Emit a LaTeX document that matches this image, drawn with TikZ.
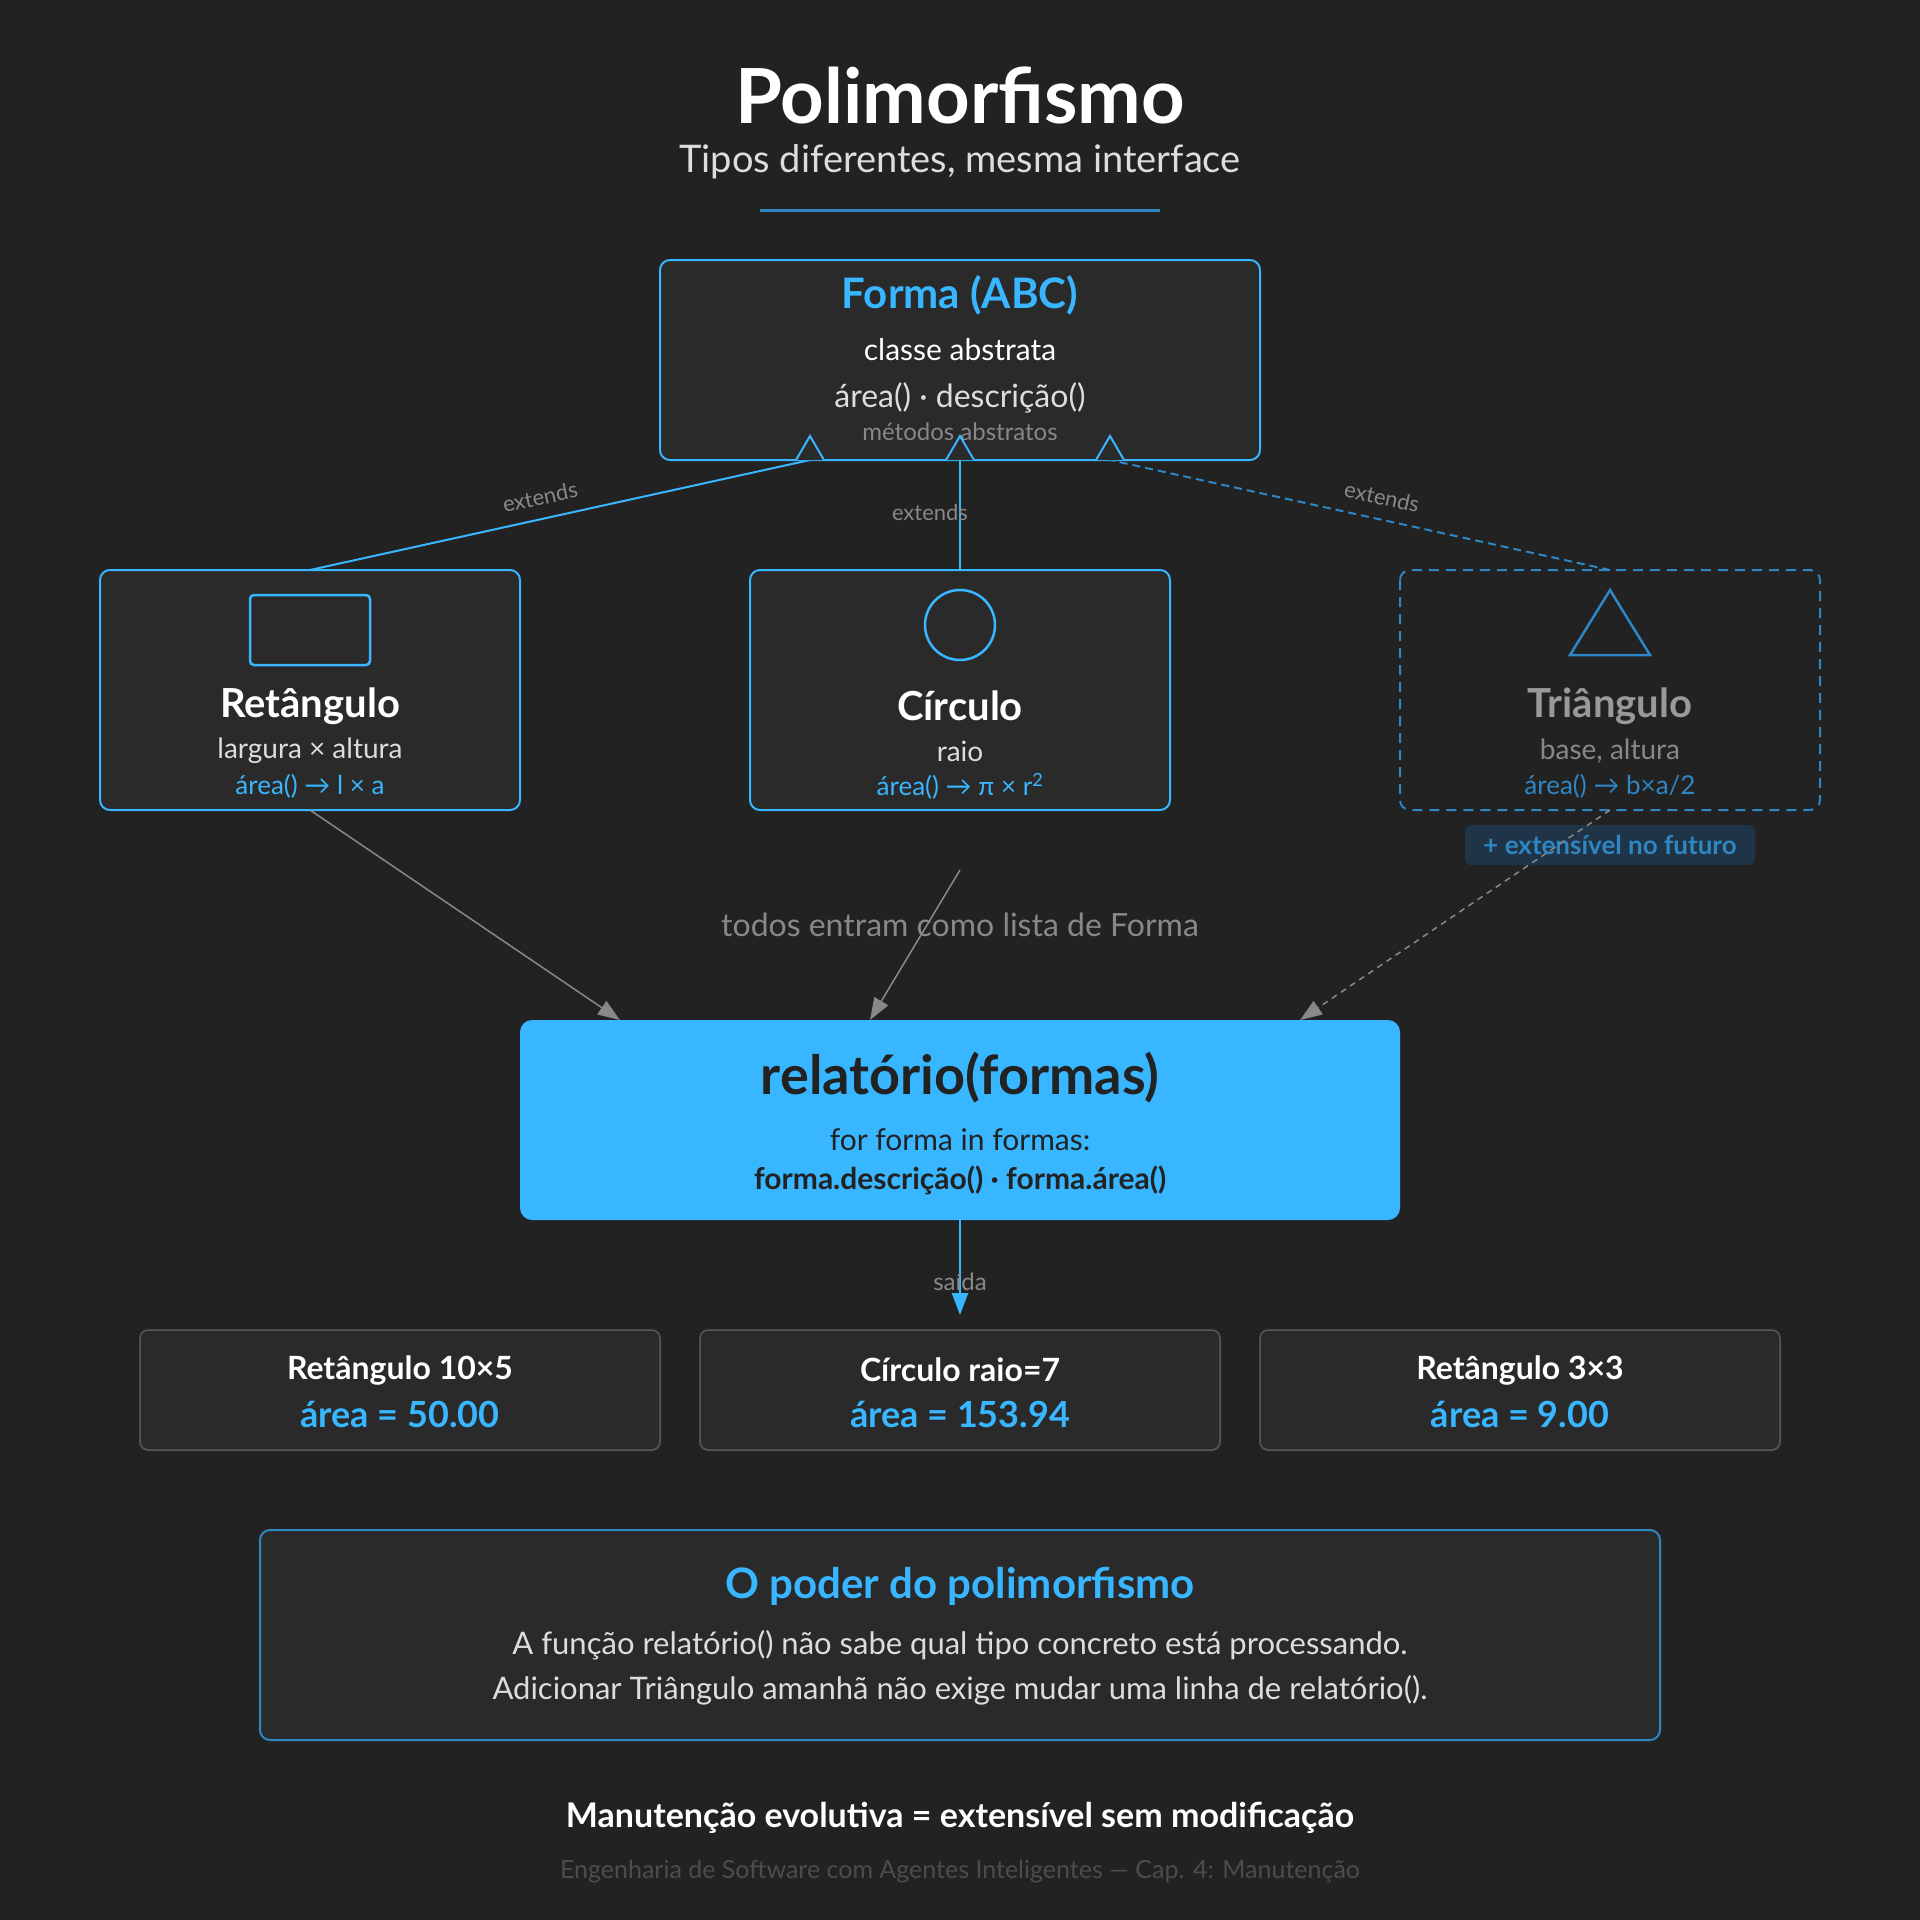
\documentclass[tikz,border=0pt]{standalone}
\usepackage{fontspec}
\setmainfont{Lato}
\usetikzlibrary{arrows.meta}
\definecolor{bg}{HTML}{222222}
\definecolor{boxf}{HTML}{2A2A2A}
\definecolor{blu}{HTML}{38B6FF}
\definecolor{dblu}{HTML}{2F86C4}
\definecolor{badge}{HTML}{1F3447}
\definecolor{gr}{HTML}{888888}
\definecolor{lt}{HTML}{DDDDDD}
\newcommand{\fs}[1]{\fontsize{#1}{#1}\selectfont}
\begin{document}
\begin{tikzpicture}[x=1pt,y=-1pt,
 box/.style={draw=blu,fill=boxf,line width=2pt,rounded corners=10pt},
 obox/.style={draw=gray!70!black,fill=boxf,line width=1.5pt,rounded corners=8pt},
 t/.style={anchor=center,inner sep=0pt},
 gar/.style={draw=gr,line width=1.5pt,-{Triangle[length=22pt,width=16pt]}},
 ext/.style={fill=boxf,draw=blu,line width=2pt}]
\fill[bg] (0,0) rectangle (1920,1920);
\useasboundingbox (0,0) rectangle (1920,1920);
\node[t,text=white] (title) at (960,95) {\fs{76}\bfseries Polimorfismo};
\node[t,text=lt] (sub) at (960,162) {\fs{38}Tipos diferentes, mesma interface};
\draw[dblu,line width=3pt] (760,210) -- (1160,210);
% Forma
\draw[box] (660,260) rectangle (1260,460);
\coordinate (fb1) at (810,460); \coordinate (fb2) at (960,460); \coordinate (fb3) at (1110,460);
\node[t,text=blu] (ft) at (960,295) {\fs{42}\bfseries Forma (ABC)};
\node[t,text=white] (fc) at (960,350) {\fs{30}classe abstrata};
\node[t,text=lt] (fm) at (960,398) {\fs{32}área() · descrição()};
\node[t,text=gr] (fa) at (960,432) {\fs{24}métodos abstratos};
% boxes
\draw[box] (100,570) rectangle (520,810);
\draw[box] (750,570) rectangle (1170,810);
\draw[dblu,line width=2pt,dashed,dash pattern=on 10pt off 7pt,rounded corners=10pt] (1400,570) rectangle (1820,810);
\coordinate (rt) at (310,570); \coordinate (ct) at (960,570); \coordinate (tt) at (1610,570);
\coordinate (rb) at (310,810); \coordinate (cb) at (960,870); \coordinate (tb) at (1610,810);
\draw[blu,line width=2.5pt,rounded corners=4pt] (250,595) rectangle (370,665);
\draw[blu,line width=2.5pt] (960,625) circle (35);
\draw[dblu,line width=2.5pt] (1610,590) -- (1650,655) -- (1570,655) -- cycle;
\node[t,text=white] at (310,706) {\fs{40}\bfseries Retângulo};
\node[t,text=lt] at (310,751) {\fs{28}largura × altura};
\node[t,text=blu] at (310,786) {\fs{26}área() → l × a};
\node[t,text=white] at (960,706) {\fs{40}\bfseries Círculo};
\node[t,text=lt] at (960,751) {\fs{28}raio};
\node[t,text=blu] at (960,786) {\fs{26}área() → π × r\textsuperscript{2}};
\node[t,text=gray!80] at (1610,706) {\fs{40}\bfseries Triângulo};
\node[t,text=gr] at (1610,751) {\fs{28}base, altura};
\node[t,text=dblu] at (1610,786) {\fs{26}área() → b×a/2};
% extends
\draw[blu,line width=2pt] (rt) -- (fb1);
\draw[blu,line width=2pt] (ct) -- (fb2);
\draw[dblu,line width=2pt,dashed,dash pattern=on 8pt off 5pt] (tt) -- (fb3);
\foreach \p in {fb1,fb2,fb3}{\draw[ext] ([xshift=-14pt]\p) -- ([yshift=24pt]\p) -- ([xshift=14pt]\p);}
\node[t,text=gr,rotate=12] at (540,497) {\fs{22}extends};
\node[t,text=gr] at (930,512) {\fs{22}extends};
\node[t,text=gr,rotate=-12] at (1382,497) {\fs{22}extends};
% relatorio
\draw[fill=blu,rounded corners=12pt,draw=none] (520,1020) rectangle (1400,1220);
\node[t,text=bg] (rel) at (960,1078) {\fs{54}\bfseries relatório(formas)};
\node[t,text=bg] at (960,1140) {\fs{30}for forma in formas:};
\node[t,text=bg] at (960,1180) {\fs{30}\bfseries forma.descrição() · forma.área()};
\node[fill=badge,rounded corners=6pt,minimum width=290pt,minimum height=40pt,text=dblu] at (1610,845) {\fs{26}\bfseries + extensível no futuro};
\coordinate (r1) at (620,1020); \coordinate (r2) at (870,1020); \coordinate (r3) at (1300,1020);
\draw[gar] (rb) -- (r1);
\draw[gar] (cb) -- (r2);
\draw[gar,dashed,dash pattern=on 6pt off 5pt] (tb) -- (r3);
\node[t,text=gr] at (960,925) {\fs{32}todos entram como lista de Forma};
% saida
\coordinate (rbot) at (960,1220); \coordinate (o2t) at (960,1315);
\draw[blu,line width=2.5pt,-{Triangle[length=22pt,width=16pt]}] (rbot) -- (o2t);
\node[t,text=gr] at (960,1282) {\fs{24}saída};
% outputs
\foreach \x/\a/\b in {400/Retângulo 10×5/50.00, 960/Círculo raio=7/153.94, 1520/Retângulo 3×3/9.00}{
 \draw[obox] (\x-260,1330) rectangle (\x+260,1450);
 \node[t,text=white] at (\x,1370) {\fs{32}\bfseries \a};
 \node[t,text=blu] at (\x,1414) {\fs{36}\bfseries área = \b};
}
% bottom box
\draw[box,line width=2pt,draw=dblu] (260,1530) rectangle (1660,1740);
\node[t,text=blu] at (960,1586) {\fs{42}\bfseries O poder do polimorfismo};
\node[t,text=lt] at (960,1645) {\fs{31}A função relatório() não sabe qual tipo concreto está processando.};
\node[t,text=lt] at (960,1690) {\fs{31}Adicionar Triângulo amanhã não exige mudar uma linha de relatório().};
\node[t,text=white] at (960,1818) {\fs{34}\bfseries Manutenção evolutiva = extensível sem modificação};
\node[t,text=gray!60!black] at (960,1872) {\fs{25}Engenharia de Software com Agentes Inteligentes — Cap. 4: Manutenção};
\end{tikzpicture}
\end{document}
